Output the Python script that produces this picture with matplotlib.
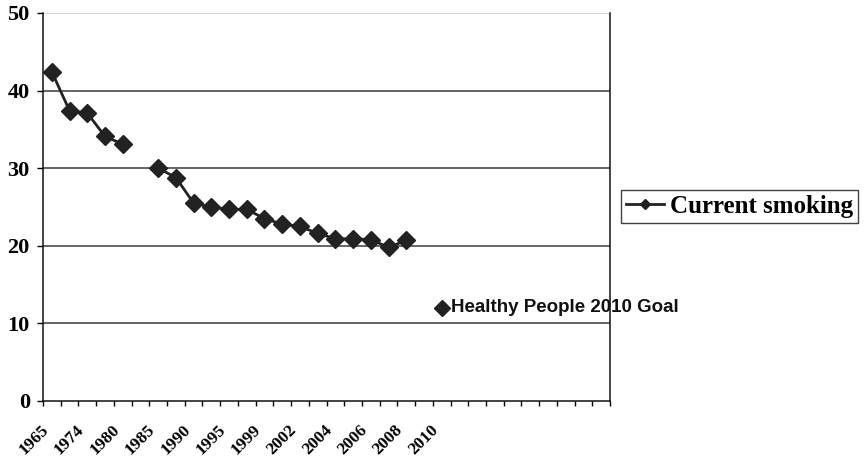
import matplotlib.pyplot as plt
import numpy as np
from matplotlib.lines import Line2D

# survey years on the category axis (every other one gets a label)
years = ["1965", "1970", "1974", "1978", "1980", "1983", "1985", "1987",
         "1990", "1992", "1995", "1997", "1999", "2000", "2002", "2003",
         "2004", "2005", "2006", "2007", "2008", "2009", "2010"]
n_slots = 32

# percent of adults currently smoking (nan = no survey point)
smoking = [42.4, 37.4, 37.1, 34.1, 33.1, np.nan, 30.0, 28.8, 25.5, 25.0,
           24.7, 24.7, 23.5, 22.8, 22.5, 21.6, 20.9, 20.9, 20.8, 19.8, 20.7]

goal_year = "2010"
goal_value = 12
goal_label = "Healthy People 2010 Goal"

fig = plt.figure(figsize=(8.67, 4.62), dpi=100)
ax = fig.add_axes([43/867, 61/462, 567/867, 388/462])

x = np.arange(len(smoking))
ax.plot(x, smoking, color="#222222", lw=2.0, marker="D", ms=9,
        label="Current smoking")

gx = years.index(goal_year)
ax.plot([gx], [goal_value], ls="none", marker="D", ms=8, color="#222222")
ax.annotate(goal_label, (gx, goal_value), xytext=(7, 0),
            textcoords="offset points", va="center", ha="left",
            fontsize=13.5, fontweight="bold", family="Liberation Sans",
            color="#111111")

ax.set_xlim(-0.5, n_slots - 0.5)
ax.set_ylim(0, 50)

# gridlines
for v in [10, 20, 30, 40]:
    ax.axhline(v, color="#3a3a3a", lw=1.1, zorder=0)
ax.axhline(50, color="#c8c8c8", lw=1.1, zorder=0)

for s in ["left", "bottom", "right"]:
    ax.spines[s].set_color("#111111")
    ax.spines[s].set_linewidth(1.1)
ax.spines["top"].set_visible(False)

ax.set_yticks([0, 10, 20, 30, 40, 50])
ax.tick_params(axis="y", direction="out", length=4.5, width=1, pad=5,
               labelsize=16)
for t in ax.get_yticklabels():
    t.set_family("Liberation Serif")
    t.set_fontweight("bold")

# tick marks between categories, labels on every other category
ax.set_xticks(np.arange(-0.5, n_slots, 1))
ax.set_xticklabels([])
ax.tick_params(axis="x", which="major", direction="out", length=3.5, width=1)
ax.set_xticks(np.arange(0, len(years), 2), years[::2], minor=True)
ax.tick_params(axis="x", which="minor", length=0, pad=15, labelsize=12.5)
for t in ax.get_xticklabels(minor=True):
    t.set_family("Liberation Serif")
    t.set_fontweight("bold")
    t.set_rotation(45)
    t.set_ha("right")
    t.set_va("top")

handle = Line2D([], [], color="#222222", lw=2.0, marker="D", ms=5.5)
leg = fig.legend([handle], ["Current smoking"], loc="center left",
                 bbox_to_anchor=(621/867, 1 - 206/462), frameon=True,
                 fancybox=False, handlelength=1.5, handletextpad=0.25,
                 borderpad=0.2, borderaxespad=0,
                 prop={"family": "Liberation Serif", "weight": "bold",
                       "size": 18})
leg.get_frame().set_edgecolor("#111111")
leg.get_frame().set_linewidth(1.0)

fig.savefig("out.png", dpi=100)
